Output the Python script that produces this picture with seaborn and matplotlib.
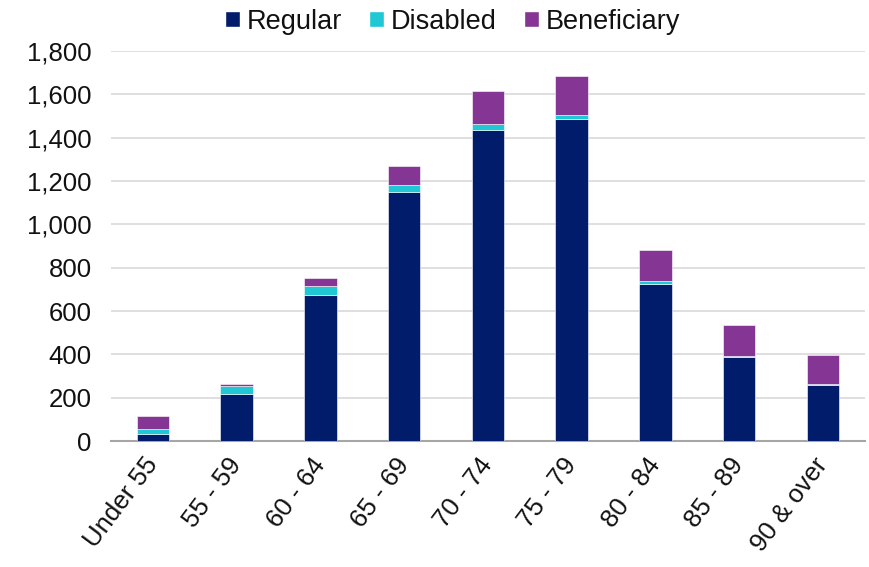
import numpy as np
import pandas as pd
import matplotlib
matplotlib.use("Agg")
import matplotlib.pyplot as plt
from matplotlib.patches import Patch
import seaborn as sns

# données
age_groups = ['Under 55', '55 - 59', '60 - 64', '65 - 69', '70 - 74',
              '75 - 79', '80 - 84', '85 - 89', '90 & over']
regular = [34, 216, 673, 1148, 1434, 1488, 723, 387, 259]
disabled = [23, 37, 42, 35, 31, 18, 16, 6, 6]
beneficiary = [57, 12, 37, 86, 151, 179, 145, 145, 134]

colors = {'Regular': '#001C6B', 'Disabled': '#1FC8D4', 'Beneficiary': '#853593'}

df = pd.DataFrame({'Age': age_groups, 'Regular': regular,
                   'Disabled': disabled, 'Beneficiary': beneficiary})

sns.set_style('white')
plt.rcParams['font.family'] = ['Liberation Sans', 'DejaVu Sans']
plt.rcParams['text.color'] = '#111111'
plt.rcParams['xtick.color'] = '#111111'
plt.rcParams['ytick.color'] = '#111111'

fig = plt.figure(figsize=(8.7, 5.67), dpi=100)
ax = fig.add_axes([0.1276, 0.222, 0.8664, 0.688])

bottom = np.zeros(len(df))
for serie in ['Regular', 'Disabled', 'Beneficiary']:
    sns.barplot(data=df, x='Age', y=serie, color=colors[serie], width=0.39,
                bottom=bottom, saturation=1, ax=ax, zorder=3,
                edgecolor='white', linewidth=0.4)
    bottom = bottom + df[serie].values

ax.set_ylim(0, 1800)
ax.set_xlim(-0.5, len(df) - 0.5)
ax.set_yticks(range(0, 1801, 200))
ax.set_yticklabels([f'{v:,}' for v in range(0, 1801, 200)], fontsize=18.5)
ax.yaxis.grid(True, color='#D9D9D9', linewidth=1.2, zorder=0)
ax.set_axisbelow(True)
ax.set_xlabel('')
ax.set_ylabel('')
ax.tick_params(axis='y', length=0, pad=14)
ax.tick_params(axis='x', length=0, pad=14)
for s in ['left', 'right', 'top']:
    ax.spines[s].set_visible(False)
ax.spines['bottom'].set_color('#A6A6A6')
ax.spines['bottom'].set_linewidth(1.5)

for lab in ax.get_xticklabels():
    lab.set_rotation(53)
    lab.set_rotation_mode('anchor')
    lab.set_ha('right')
    lab.set_va('center')
    lab.set_fontsize(18.5)

handles = [Patch(facecolor=c, label=k) for k, c in colors.items()]
fig.legend(handles=handles, loc='center', bbox_to_anchor=(0.52, 0.962), ncol=3,
           frameon=False, fontsize=19.5, handlelength=0.55, handleheight=0.55,
           handletextpad=0.25, columnspacing=1.0)

fig.savefig('out.png', dpi=100)
